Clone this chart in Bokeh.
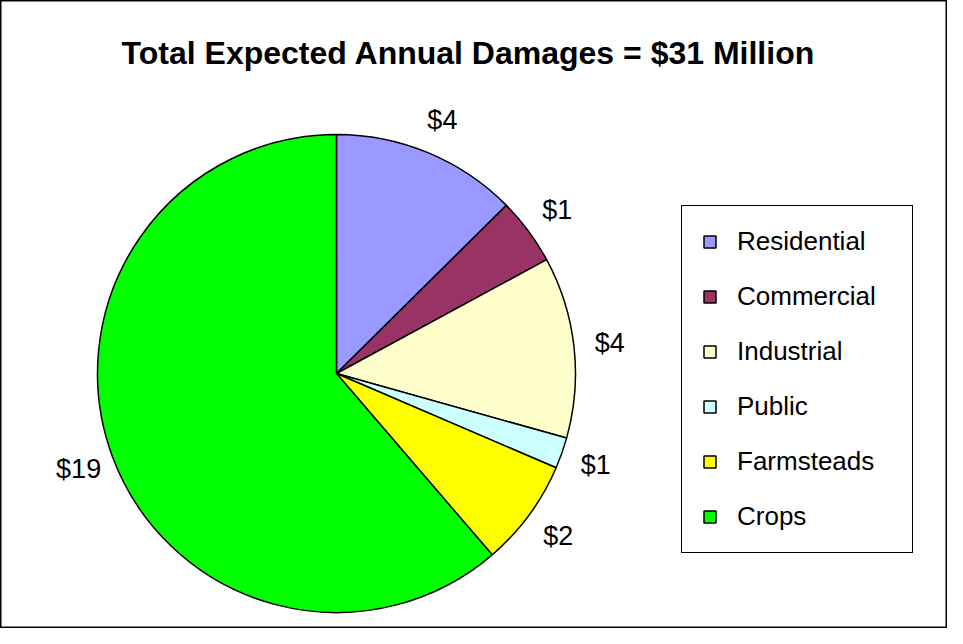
import math
from bokeh.plotting import figure
from bokeh.models import ColumnDataSource, Label
from bokeh.embed import file_html
from bokeh.resources import INLINE
from bokeh.core.properties import value

# ---- data ----
categories = ["Residential", "Commercial", "Industrial", "Public", "Farmsteads", "Crops"]
damages = [3.9, 1.4, 3.8, 0.65, 2.25, 19.0]   # $ million
colors = ["#9999FF", "#993366", "#FFFFCC", "#CCFFFF", "#FFFF00", "#00FF00"]
title_text = "Total Expected Annual Damages = $31 Million"

W, H = 947, 628
CX, CY = 336, 255
R = 239
R_LABEL = 275

total = sum(damages)
starts, ends, lx, ly, labels = [], [], [], [], []
cum = 0.0
for v in damages:
    a0 = cum / total * 2 * math.pi
    cum += v
    a1 = cum / total * 2 * math.pi
    starts.append(math.pi / 2 - a0)
    ends.append(math.pi / 2 - a1)
    mid = (a0 + a1) / 2
    lx.append(CX + R_LABEL * math.sin(mid))
    ly.append(CY + R_LABEL * math.cos(mid))
    labels.append("$%d" % round(v))

src = ColumnDataSource(dict(category=categories, value=damages, color=colors,
                            start=starts, end=ends, lx=lx, ly=ly, label=labels))

p = figure(width=W, height=H, x_range=(0, W), y_range=(0, H),
           output_backend="svg", toolbar_location=None, min_border=0)
p.axis.visible = False
p.grid.visible = False
p.outline_line_color = "black"
p.outline_line_width = 2
p.outline_line_alpha = 1.0
p.background_fill_color = "white"
p.border_fill_color = "white"

p.wedge(x=CX, y=CY, radius=R, radius_units="screen",
        start_angle="start", end_angle="end", direction="clock",
        fill_color="color", line_color="black", line_width=1.5,
        legend_field="category", source=src)

p.text(x="lx", y="ly", text="label", source=src,
       text_align="center", text_baseline="middle",
       text_font=value("Liberation Sans"), text_font_size="27px", text_color="black")

p.add_layout(Label(x=468, y=576, text=title_text, text_align="center",
                   text_baseline="middle", text_font="Liberation Sans",
                   text_font_style="bold", text_font_size="32px", text_color="black"))

lg = p.legend[0]
lg.location = (681, 75)
lg.margin = 0
lg.padding = 20
lg.spacing = 24
lg.glyph_width = 15
lg.glyph_height = 15
lg.label_standoff = 20
lg.label_height = 26
lg.label_width = 155
lg.label_text_font = "Liberation Sans"
lg.label_text_font_size = "26px"
lg.label_text_color = "black"
lg.label_text_baseline = "middle"
lg.border_line_color = "black"
lg.border_line_width = 1.5
lg.border_line_alpha = 1.0
lg.background_fill_color = "white"
lg.background_fill_alpha = 1.0

open("out.html", "w").write(file_html(p, INLINE))
